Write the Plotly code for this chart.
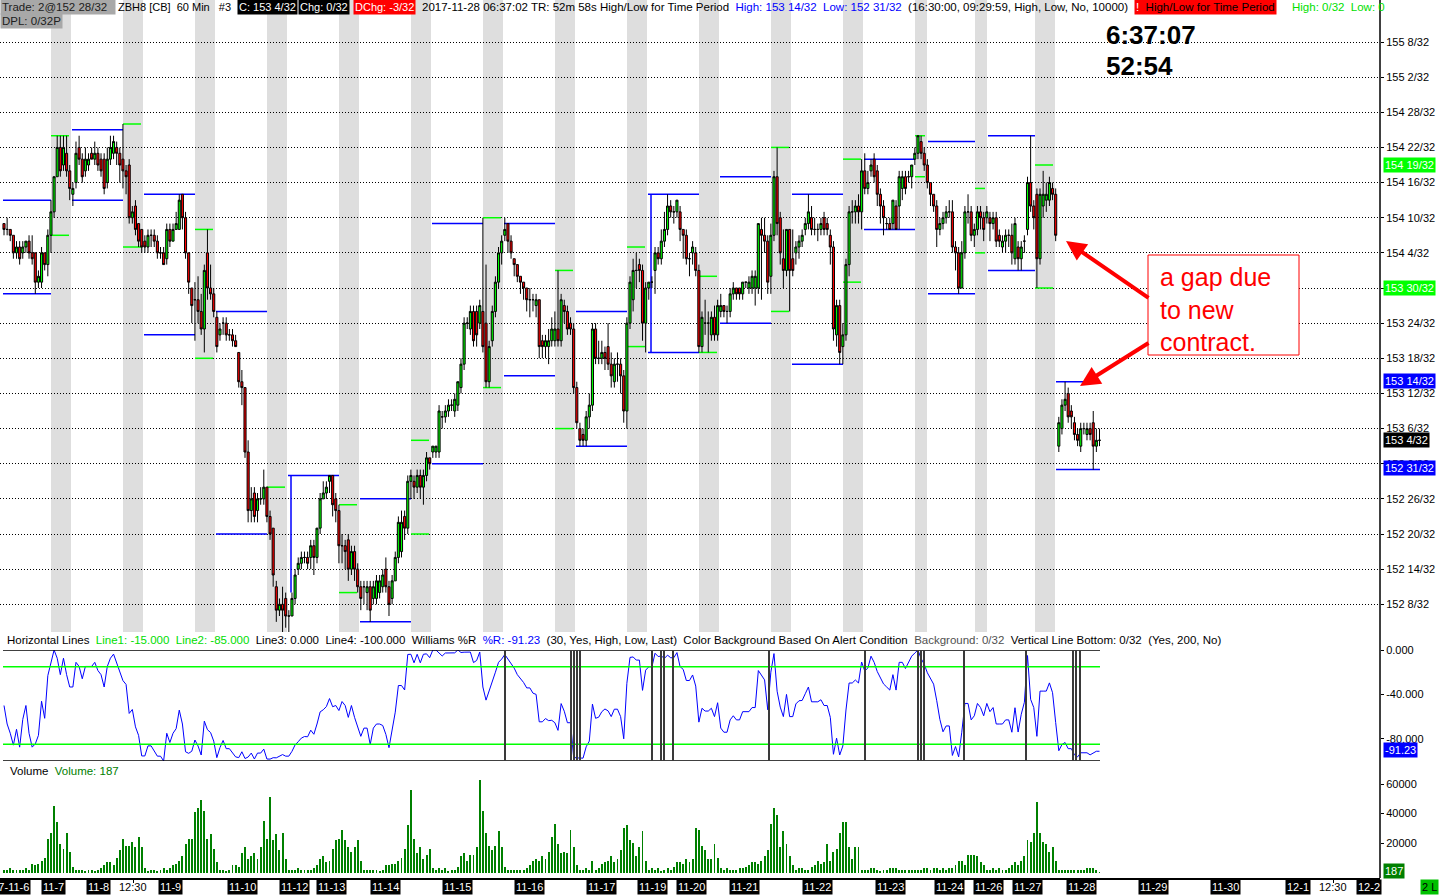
import pandas as pd
import plotly.graph_objects as go

# ---------------- data (prices in 32nds above 152) ----------------

opens = [
    73, 72, 72, 71, 68, 69, 68, 69, 70, 68, 68, 63, 63, 68, 66, 71, 75, 81, 86, 83,
    85, 82, 78, 80, 86, 84, 82, 83, 85, 84, 85, 84, 84, 80, 84, 85, 86, 85, 84, 82,
    83, 74, 76, 73, 72, 70, 69, 71, 71, 70, 68, 68, 67, 72, 70, 72, 72, 78, 74, 68,
    62, 60, 60, 58, 55, 68, 62, 61, 57, 54, 56, 56, 54, 54, 53, 51, 46, 45, 34, 24,
    27, 24, 26, 26, 28, 23, 21,
    11, 7, 8, 9, 6, 6, 9, 14, 15, 16, 16, 16, 18, 16, 21, 26, 27, 29, 30, 26,
    24, 18, 18, 19, 14, 17, 14, 11, 11, 10, 11, 9, 9, 10, 11, 14, 11, 9, 12, 16,
    17, 23, 21, 29, 29, 28, 30, 28, 30, 33, 34, 34, 34, 40, 40, 41, 42, 41, 42, 45,
    49, 56, 55, 58, 58, 56, 58, 56, 46, 53, 58, 63, 68, 71, 73, 70, 67, 66, 64, 63,
    62, 60, 60, 59, 60, 53, 52, 52, 53,
    53, 55, 53, 59, 58, 56, 55, 45, 38, 37, 36, 40, 42, 55, 50, 50, 51, 52, 49, 46,
    49, 49, 47, 41, 56, 60, 65, 66, 65, 56, 62, 63, 65, 68, 67, 70, 72, 76, 75, 75,
    75, 72, 71, 67, 68, 68, 65, 52, 56, 56, 54, 57, 54, 58, 59, 58, 58, 61, 62, 62,
    61, 63, 62, 62, 62, 62, 72, 71, 70, 64, 71, 81, 74, 67, 65, 72, 67, 68, 69, 70,
    72, 73, 74, 72, 72, 72, 74, 73,
    71, 69, 54, 59, 52, 54, 66, 75, 75, 76, 75, 82, 79, 82, 84, 82, 78, 76, 73, 73,
    73, 76, 76, 79, 81, 81, 81, 84, 85, 87, 85, 83, 80, 78, 76, 72, 73, 74, 75, 75,
    69, 68, 62, 68, 75, 75, 71, 72, 75, 74, 74, 74, 73, 74, 71, 69, 70, 71, 71, 67,
    69, 67, 70, 72, 80, 76, 78, 67, 76, 77, 77, 79, 78, 35, 38, 42, 44, 41, 39, 37,
    35, 38, 37, 38, 39, 35, 36,
]
closes = [
    72, 72, 71, 68, 69, 67, 69, 70, 68, 67, 63, 64, 68, 66, 71, 75, 81, 86, 82, 86,
    82, 79, 79, 85, 84, 81, 84, 84, 84, 85, 83, 82, 79, 84, 86, 87, 85, 83, 82, 81,
    74, 75, 72, 70, 69, 69, 71, 71, 70, 68, 68, 66, 72, 70, 72, 73, 77, 74, 68, 63,
    59, 60, 58, 55, 65, 62, 61, 58, 52, 55, 56, 54, 54, 53, 52, 46, 45, 34, 24, 26,
    23, 26, 26, 28, 23, 20, 13,
    7, 8, 7, 6, 6, 9, 13, 15, 16, 16, 15, 18, 16, 21, 26, 27, 28, 30, 25, 24,
    18, 18, 17, 14, 17, 14, 11, 9, 11, 11, 7, 11, 12, 12, 13, 11, 8, 12, 16, 22,
    22, 21, 29, 30, 28, 30, 28, 30, 33, 32, 35, 35, 41, 40, 41, 42, 42, 43, 46, 49,
    56, 56, 58, 53, 54, 59, 52, 46, 52, 58, 63, 68, 70, 72, 70, 68, 66, 64, 63, 62,
    60, 60, 60, 60, 52, 52, 53, 53, 55,
    55, 53, 60, 58, 55, 55, 45, 39, 36, 36, 40, 42, 55, 50, 50, 51, 50, 49, 47, 49,
    49, 47, 41, 56, 63, 65, 65, 65, 56, 62, 63, 63, 68, 67, 70, 72, 76, 75, 75, 77,
    72, 71, 67, 67, 69, 65, 52, 57, 56, 56, 57, 54, 59, 59, 58, 58, 61, 62, 61, 61,
    63, 63, 63, 64, 64, 73, 71, 70, 63, 71, 81, 73, 68, 65, 72, 65, 65, 69, 70, 71,
    73, 75, 72, 72, 72, 73, 72, 72,
    69, 55, 59, 51, 54, 66, 75, 75, 76, 75, 82, 79, 80, 83, 81, 78, 76, 74, 73, 72,
    77, 72, 81, 81, 79, 81, 83, 85, 88, 85, 83, 80, 78, 76, 72, 73, 74, 75, 75, 69,
    68, 62, 68, 75, 75, 71, 72, 75, 74, 72, 75, 73, 74, 70, 70, 70, 71, 71, 68, 73,
    67, 69, 70, 80, 76, 74, 67, 78, 78, 78, 80, 78, 71, 39, 42, 43, 40, 40, 37, 36,
    38, 38, 38, 37, 35, 36, 36,
]
highs = [
    73, 74, 72, 71, 70, 70, 70, 70, 71, 71, 68, 65, 69, 68, 72, 77, 81, 88, 88, 88,
    88, 83, 80, 87, 88, 85, 86, 85, 86, 87, 86, 85, 85, 86, 88, 88, 87, 86, 90, 83,
    84, 76, 77, 73, 72, 71, 72, 72, 72, 71, 69, 69, 73, 73, 73, 75, 78, 78, 75, 68,
    62, 63, 64, 61, 66, 72, 66, 62, 58, 56, 57, 57, 55, 55, 54, 51, 48, 45, 36, 28,
    28, 27, 28, 31, 28, 24, 21,
    12, 9, 11, 10, 7, 10, 14, 16, 17, 17, 17, 19, 19, 21, 27, 29, 29, 30, 30, 27,
    25, 20, 19, 20, 18, 18, 15, 12, 12, 12, 12, 12, 13, 13, 14, 16, 12, 13, 17, 23,
    24, 24, 30, 31, 30, 31, 31, 31, 34, 33, 35, 35, 42, 41, 42, 43, 43, 44, 46, 50,
    57, 57, 59, 59, 59, 60, 74, 66, 53, 59, 64, 69, 71, 74, 73, 71, 67, 66, 64, 63,
    62, 62, 61, 61, 60, 54, 54, 55, 57,
    58, 65, 61, 60, 59, 57, 56, 46, 39, 38, 41, 44, 56, 56, 53, 53, 52, 56, 51, 50,
    51, 50, 48, 57, 64, 67, 68, 67, 66, 63, 63, 64, 69, 69, 72, 75, 78, 77, 76, 77,
    76, 72, 72, 68, 70, 69, 66, 58, 60, 58, 58, 59, 60, 61, 59, 59, 62, 63, 62, 62,
    63, 63, 64, 65, 65, 73, 74, 74, 71, 73, 82, 86, 75, 72, 72, 72, 72, 70, 71, 72,
    74, 78, 76, 74, 73, 74, 75, 74,
    72, 70, 60, 60, 56, 67, 76, 77, 77, 78, 84, 85, 82, 84, 85, 83, 79, 77, 74, 74,
    77, 77, 82, 82, 82, 82, 83, 86, 88, 88, 86, 84, 80, 78, 77, 74, 75, 76, 77, 77,
    70, 69, 70, 76, 78, 76, 73, 76, 76, 75, 76, 75, 75, 75, 72, 71, 72, 72, 73, 74,
    70, 70, 71, 81, 88, 77, 79, 79, 82, 80, 81, 80, 79, 40, 43, 46, 45, 42, 40, 38,
    39, 39, 39, 39, 41, 38, 38,
]
lows = [
    71, 71, 70, 67, 67, 66, 67, 68, 67, 66, 61, 62, 62, 65, 64, 68, 74, 81, 81, 82,
    81, 77, 76, 79, 83, 80, 81, 82, 84, 83, 82, 81, 78, 79, 83, 84, 83, 80, 79, 78,
    73, 73, 71, 69, 68, 68, 68, 69, 69, 67, 67, 66, 66, 69, 70, 72, 72, 72, 67, 61,
    56, 53, 56, 54, 51, 60, 60, 57, 51, 53, 54, 53, 53, 52, 52, 45, 42, 33, 22, 22,
    22, 22, 25, 25, 22, 19, 11,
    5, 6, 3, 4, 3, 6, 8, 13, 14, 15, 14, 14, 13, 15, 20, 26, 26, 27, 23, 22,
    15, 15, 14, 12, 13, 12, 10, 7, 8, 7, 5, 8, 8, 9, 10, 10, 6, 8, 12, 15,
    16, 19, 20, 26, 26, 27, 26, 25, 29, 31, 33, 33, 33, 38, 39, 40, 41, 40, 41, 44,
    48, 55, 54, 52, 52, 55, 51, 45, 45, 52, 57, 62, 66, 70, 68, 67, 64, 63, 61, 60,
    58, 57, 58, 57, 50, 50, 50, 49, 52,
    52, 52, 52, 56, 54, 54, 44, 38, 35, 35, 35, 38, 41, 49, 49, 49, 48, 48, 45, 45,
    46, 44, 39, 38, 55, 58, 62, 63, 53, 51, 60, 62, 61, 66, 66, 69, 71, 74, 73, 74,
    70, 67, 66, 64, 66, 64, 51, 51, 54, 51, 53, 53, 53, 57, 57, 56, 57, 60, 60, 60,
    60, 62, 61, 61, 59, 61, 60, 68, 61, 61, 70, 71, 66, 62, 64, 58, 64, 66, 67, 69,
    71, 72, 71, 71, 70, 71, 71, 71,
    66, 53, 52, 49, 49, 53, 64, 73, 73, 73, 72, 78, 78, 81, 80, 76, 73, 71, 72, 72,
    72, 72, 72, 77, 78, 80, 79, 83, 84, 84, 82, 79, 76, 75, 69, 71, 72, 73, 74, 68,
    65, 61, 62, 67, 73, 70, 69, 71, 72, 70, 73, 70, 72, 69, 69, 68, 68, 69, 66, 66,
    65, 65, 68, 71, 75, 72, 62, 66, 74, 75, 76, 77, 70, 34, 37, 41, 39, 38, 36, 35,
    34, 37, 36, 36, 31, 34, 35,
]

# volume, thousands of contracts per hourly bar
volume_k = [
    2, 2, 3, 2, 2, 2, 2, 3, 2,
    6, 5, 6, 8, 10, 23, 27, 45, 34, 19,
    16, 27, 14, 4, 2, 2, 2, 1, 2, 2,
    1, 2, 3, 5, 7, 7, 5, 10, 15, 23,
    18, 18, 21, 17, 24, 17, 3, 1, 2, 2,
    1, 2, 3, 2, 3, 5, 6, 8, 11,
    19, 23, 23, 41, 44, 49, 42, 23, 26, 16,
    7, 2, 2, 1, 2, 5, 5, 4, 13,
    17, 9, 11, 13, 9, 17, 35, 23, 51, 22,
    26, 15, 27, 9, 2, 2, 2, 3, 2, 2,
    2, 2, 3, 5, 9, 11, 7, 8, 16, 22,
    23, 29, 22, 17, 14, 17, 22, 8, 2, 2,
    2, 2, 2, 1, 2, 5, 5, 6, 6,
    8, 10, 16, 32, 56, 23, 13, 17, 9, 12,
    16, 3, 2, 3, 2, 3, 1, 2, 2, 4,
    11, 13, 8, 12, 12, 17, 63, 42, 27, 18,
    15, 18, 28, 17, 4, 2, 2, 2, 2,
    2, 2, 3, 5, 8, 9, 8, 11, 9, 14,
    24, 33, 19, 13, 14, 13, 29, 17, 5, 2,
    2, 3, 2, 8, 2, 3, 6, 7, 8, 11,
    7, 9, 15, 30, 32, 22, 20, 11, 17, 28,
    8, 2, 3, 2, 3, 1, 2, 3, 2,
    4, 7, 7, 6, 9, 7, 9, 30, 29, 18,
    15, 9, 9, 19, 10, 3, 2, 3, 2,
    2, 2, 3, 3, 4, 5, 7, 7, 6, 8,
    11, 15, 33, 44, 39, 17, 28, 19, 11, 5,
    2, 3, 3, 2, 2, 4, 5, 8, 6,
    7, 19, 8, 14, 16, 27, 34, 34, 17, 9,
    17, 17, 2, 2, 2, 3, 3, 2, 1, 2,
    2, 3, 3, 3, 2, 2, 2, 2, 2, 2,
    2, 2, 3, 3, 2, 3, 3, 2, 3, 2,
    3, 3, 5, 8, 8, 5, 12, 12, 12, 11,
    7, 5, 2, 2, 3, 2, 3, 2, 2,
    3, 5, 7, 5, 8, 11, 22, 21, 27, 48,
    27, 21, 19, 14, 17, 8, 2, 2, 2, 2,
    2, 2, 2, 2, 2, 3, 3, 3, 2, 0.187,
]

# High/Low for Time Period levels (32nds), one per session
blue_hi = [77, 89, 78, 58, 30, 26, 73, 73, 58, 78, 81, 78, 84, 87, 88, 46]
blue_lo = [61, 77, 54, 20, None, 5, 32, 47, 35, 51, 56, 49, 72, 61, 65, 31]
green_hi = [88, 90, 72, 28, 25, 36, 74, 65, 69, 64, 86, 84, 88, 79, 83]
green_lo = [71, 69, 50, None, 10, 20, 45, 38, 52, 51, 58, 63, 81, 68, 62]

price_tick_32 = [8, 14, 20, 26, 32, 38, 44, 50, 56, 62, 68, 74, 80, 86, 92, 98, 104]
price_tick_text = ["152 8/32", "152 14/32", "152 20/32", "152 26/32", "153 0/32",
                   "153 6/32", "153 12/32", "153 18/32", "153 24/32", "153 30/32",
                   "154 4/32", "154 10/32", "154 16/32", "154 22/32", "154 28/32",
                   "155 2/32", "155 8/32"]

date_labels = ["2017-11-6", "11-7", "11-8", "12:30", "11-9", "11-10", "11-12", "11-13",
               "11-14", "11-15", "11-16", "11-17", "11-19", "11-20", "11-21", "11-22",
               "11-23", "11-24", "11-26", "11-27", "11-28", "11-29", "11-30", "12-1",
               "12:30", "12-2"]

########################################
### layout helpers (pixels -> axes / paper)

W, H = 1441, 896
MR, MB = 61, 18
PW, PH = W - MR, H - MB
BAR_PX, X0_PX = 3.13, 4.0
PX_PER_32 = 5.857
FONT = "Liberation Sans, Arial, sans-serif"


def ix(px):
    return (px - X0_PX) / BAR_PX


def fx(px):
    return px / PW


def fy(py):
    return (PH - py) / PH


def pr(v):
    return 152 + v / 32.0


n = len(closes)
bars = list(range(n))

hh = pd.Series(highs).rolling(30, min_periods=1).max()
ll = pd.Series(lows).rolling(30, min_periods=1).min()
will_r = -100 * (hh - pd.Series(closes)) / (hh - ll)

candles = go.Candlestick(
    x=bars, open=[pr(v) for v in opens], high=[pr(v) for v in highs],
    low=[pr(v) for v in lows], close=[pr(v) for v in closes],
    increasing=dict(line=dict(color='black', width=1), fillcolor='#00ff00'),
    decreasing=dict(line=dict(color='black', width=1), fillcolor='#ff0000'),
    whiskerwidth=0, hoverinfo='skip', showlegend=False, xaxis='x', yaxis='y')

wr_line = go.Scatter(x=bars, y=will_r, mode='lines', line=dict(color='#0000ff', width=1),
                     hoverinfo='skip', showlegend=False, xaxis='x', yaxis='y2')

vol_bars = go.Bar(x=bars, y=[v * 1000 for v in volume_k], width=0.3,
                  marker=dict(color='#008000', line=dict(width=0)),
                  hoverinfo='skip', showlegend=False, xaxis='x', yaxis='y3')

shapes = []

# session background bands
bands = [(51, 20), (123, 20), (195, 20), (267, 20), (339, 20), (411, 20), (483, 20),
         (555, 20), (627, 20), (699, 20), (771, 20), (843, 20), (915, 12), (975, 12),
         (1035, 20)]
for b, w in bands:
    shapes.append(dict(type='rect', xref='x', yref='y domain', x0=ix(b), x1=ix(b + w),
                       y0=0, y1=1, fillcolor='#dedede', line=dict(width=0), layer='below'))

# blue high/low lines between bands, green ones inside the bands
seg_start = [3] + [b + w + 1 for b, w in bands]
seg_end = [b for b, w in bands] + [1100]
for k in range(len(seg_start)):
    for lvl in (blue_hi[k], blue_lo[k]):
        if lvl is None:
            continue
        shapes.append(dict(type='line', xref='x', yref='y', x0=ix(seg_start[k]),
                           x1=ix(seg_end[k]), y0=pr(lvl), y1=pr(lvl),
                           line=dict(color='#0000ff', width=1.5), layer='between'))
for k, (b, w) in enumerate(bands):
    for lvl in (green_hi[k], green_lo[k]):
        if lvl is None:
            continue
        shapes.append(dict(type='line', xref='x', yref='y', x0=ix(b), x1=ix(b + w - 2),
                           y0=pr(lvl), y1=pr(lvl),
                           line=dict(color='#00ff00', width=1.5), layer='between'))
for px, a, b in [(291, 30, 10), (651, 78, 51)]:
    shapes.append(dict(type='line', xref='x', yref='y', x0=ix(px), x1=ix(px),
                       y0=pr(a), y1=pr(b), line=dict(color='#0000ff', width=1.5),
                       layer='between'))

# %R panel frame + horizontal levels
for lvl, col, wd in [(0, 'black', 1.5), (-100, 'black', 1.5),
                     (-15, '#00ff00', 1.5), (-85, '#00ff00', 1.5)]:
    shapes.append(dict(type='line', xref='x', yref='y2', x0=ix(3), x1=ix(1100),
                       y0=lvl, y1=lvl, line=dict(color=col, width=wd)))
# alert condition vertical lines
for px in [505, 571, 574, 577, 580, 652, 661, 664, 673, 769, 865, 918, 921, 924,
           964, 1026, 1073, 1076, 1080]:
    shapes.append(dict(type='line', xref='x', yref='y2', x0=ix(px), x1=ix(px),
                       y0=-100, y1=0, line=dict(color='#3a3a3a', width=2)))

# right axis spine
shapes.append(dict(type='line', xref='paper', yref='paper', x0=1, x1=1, y0=0, y1=1,
                   line=dict(color='black', width=1.5)))


def note(text, px, py, color='black', size=11, bg=None, anchor='left', **kw):
    d = dict(text=text, x=fx(px), y=fy(py), xref='paper', yref='paper',
             xanchor=anchor, yanchor='middle', showarrow=False,
             font=dict(family=FONT, size=size, color=color), borderpad=1)
    if bg:
        d['bgcolor'] = bg
    d.update(kw)
    return d


sp = '\u00a0'
HS = 11.5
ann = [
    note('Trade: 2@152 28/32' + sp * 2, 0, 7, color='#202020', bg='#a8a8a8', size=HS),
    note('DPL: 0/32P', 0, 21, color='#202020', bg='#a8a8a8', size=HS),
    note('ZBH8 [CB]' + sp * 2 + '60 Min' + sp * 3 + '#3', 116, 7, size=11),
    note('C: 153 4/32', 237, 7, color='white', bg='black'),
    note('Chg: 0/32', 298, 7, color='white', bg='black'),
    note('DChg: -3/32', 353, 7, color='white', bg='#ff0000'),
    note('2017-11-28 06:37:02 TR: 52m 58s High/Low for Time Period' + sp * 2
         + '<span style="color:#0000ff">High: 153 14/32' + sp * 2 + 'Low: 152 31/32</span>'
         + sp * 2 + '(16:30:00, 09:29:59, High, Low, No, 10000)', 420, 7, size=HS),
    note('<span style="color:white">!</span>' + sp * 2 + 'High/Low for Time Period',
         1134, 7, color='black', bg='#ff0000', size=HS),
    note('High: 0/32' + sp * 2 + 'Low: 0', 1290, 7, color='#00e000', size=HS),
    note('<b>6:37:07</b>', 1104, 35, size=26),
    note('<b>52:54</b>', 1104, 66, size=26),
    note('Horizontal Lines' + sp * 2
         + '<span style="color:#00dd00">Line1: -15.000' + sp * 2 + 'Line2: -85.000</span>'
         + sp * 2 + 'Line3: 0.000' + sp * 2 + 'Line4: -100.000' + sp * 2 + 'Williams %R'
         + sp * 2 + '<span style="color:#0000ff">%R: -91.23</span>' + sp * 2
         + '(30, Yes, High, Low, Last)' + sp * 2 + 'Color Background Based On Alert Condition'
         + sp * 2 + '<span style="color:#505050">Background: 0/32</span>' + sp * 2
         + 'Vertical Line Bottom: 0/32' + sp * 2 + '(Yes, 200, No)', 5, 640, size=HS),
    note('Volume' + sp * 2 + '<span style="color:#008000">Volume: 187</span>', 8, 771,
         size=HS),
    # highlighted right-axis values
    note('154 19/32', 1383, 165, color='white', bg='#00ff00'),
    note('153 30/32', 1383, 288, color='white', bg='#00ff00'),
    note('153 14/32', 1383, 381, color='white', bg='#0000ff'),
    note('153 4/32', 1383, 440, color='white', bg='black'),
    note('152 31/32', 1383, 468, color='white', bg='#0000ff'),
    note('-91.23', 1383, 750, color='white', bg='#0000ff'),
    note('187', 1383, 871, color='white', bg='#008000'),
    note('2 L', 1420, 887, color='black', bg='#00c000'),
    # gap callout
    note('a gap due<br>to new<br>contract.', 1158, 309, color='#ff0000', size=25,
         align='left'),
    dict(x=fx(1066), y=fy(241), xref='paper', yref='paper', text='', showarrow=True,
         ax=84, ay=58, arrowhead=2, arrowsize=1, arrowwidth=4, arrowcolor='#ff0000'),
    dict(x=fx(1080), y=fy(386), xref='paper', yref='paper', text='', showarrow=True,
         ax=70, ay=-44, arrowhead=2, arrowsize=1, arrowwidth=4, arrowcolor='#ff0000'),
]
shapes.append(dict(type='rect', xref='paper', yref='paper', x0=fx(1148), x1=fx(1299),
                   y0=fy(355), y1=fy(255), fillcolor='white',
                   line=dict(color='#ff0000', width=1), layer='above'))

# date labels under the x axis
date_px = [4, 53, 98, 133, 170, 242, 294, 331, 385, 457, 529, 601, 652, 691, 745, 817,
           890, 950, 988, 1027, 1081, 1153, 1225, 1298, 1333, 1369]
for px, lab in zip(date_px, date_labels):
    if ':' in lab:
        ann.append(note(lab, px, 887, anchor='center'))
    else:
        ann.append(note(lab, px, 887, color='white', bg='black', anchor='center'))

layout = go.Layout(
    width=W, height=H,
    margin=dict(l=0, r=MR, t=0, b=MB, pad=0),
    paper_bgcolor='white', plot_bgcolor='white',
    font=dict(family=FONT, size=11, color='black'),
    showlegend=False, bargap=0, boxgap=0.05,
    xaxis=dict(range=[ix(0), ix(PW)], anchor='y3', showgrid=False, zeroline=False,
               showline=True, linecolor='black', linewidth=1.5,
               tickvals=[ix(p) for p in date_px], ticks='outside', ticklen=3,
               tickcolor='black', showticklabels=False, rangeslider=dict(visible=False),
               fixedrange=True),
    yaxis=dict(domain=[fy(632), 1],
               range=[pr(8 - 27.7 / PX_PER_32), pr(104 + 42 / PX_PER_32)],
               side='right', anchor='x', tickvals=[pr(v) for v in price_tick_32],
               ticktext=price_tick_text, showgrid=True, gridcolor='black', gridwidth=1,
               griddash='1px,2px', zeroline=False, ticks='outside', ticklen=3,
               tickcolor='black', automargin=False, tickfont=dict(size=11)),
    yaxis2=dict(domain=[fy(761), fy(650)], range=[-100, 0], side='right', anchor='x',
                tickvals=[0, -40, -80], ticktext=['0.000', '-40.000', '-80.000'],
                showgrid=False, zeroline=False, ticks='outside', ticklen=3,
                tickcolor='black', automargin=False),
    yaxis3=dict(domain=[0, fy(765)], range=[-3730, 72900], side='right', anchor='x',
                tickvals=[20000, 40000, 60000], ticktext=['20000', '40000', '60000'],
                showgrid=False, zeroline=False, ticks='outside', ticklen=3,
                tickcolor='black', automargin=False),
    shapes=shapes, annotations=ann,
)

fig = go.Figure(data=[vol_bars, wr_line, candles], layout=layout)
fig.write_html("out.html", config={'displayModeBar': False},
               post_script="document.body.style.margin='0';")
